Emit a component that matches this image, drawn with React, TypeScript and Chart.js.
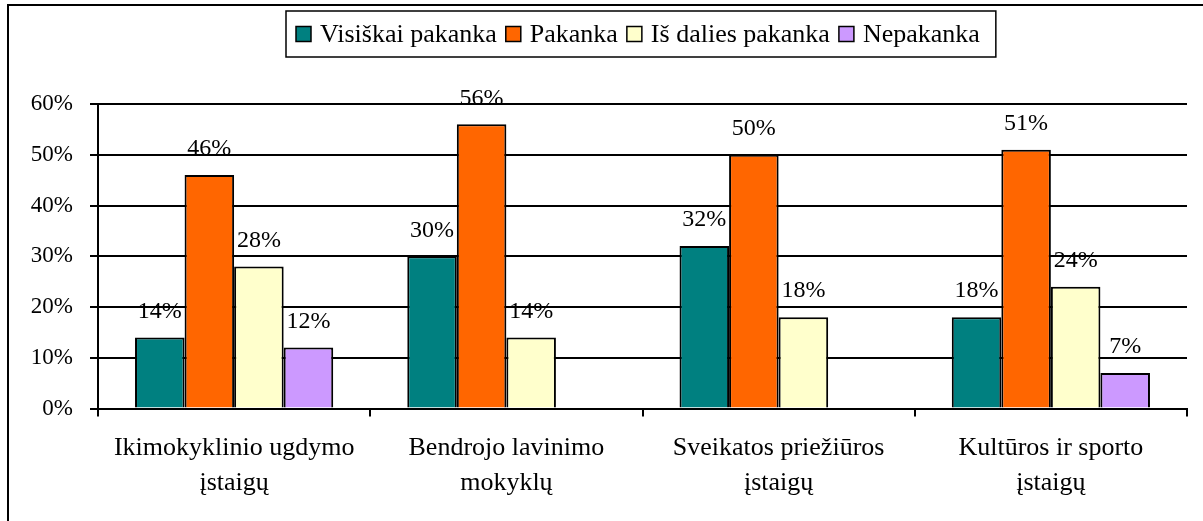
import React, { useEffect, useRef } from "react";
import { Chart, registerables } from "chart.js";

Chart.register(...registerables);

const categories: string[][] = [
  ["Ikimokyklinio ugdymo", "įstaigų"],
  ["Bendrojo lavinimo", "mokyklų"],
  ["Sveikatos priežiūros", "įstaigų"],
  ["Kultūros ir sporto", "įstaigų"],
];
const seriesNames = ["Visiškai pakanka", "Pakanka", "Iš dalies pakanka", "Nepakanka"];
const visiskaiPakanka: (number | null)[] = [14, 30, 32, 18];
const pakanka: (number | null)[] = [46, 56, 50, 51];
const isDaliesPakanka: (number | null)[] = [28, 14, 18, 24];
const nepakanka: (number | null)[] = [12, null, null, 7];
const seriesColors = ["#008080", "#FF6600", "#FFFFCC", "#CC99FF"];
const yMin = 0;
const yMax = 60;
const yStep = 10;

const FONT = "'Liberation Serif', 'Times New Roman', serif";

const framePlugin = {
  id: "frame",
  beforeDraw(chart: any) {
    const ctx = chart.ctx;
    ctx.save();
    ctx.fillStyle = "#fff";
    ctx.fillRect(0, 0, chart.width, chart.height);
    ctx.fillStyle = "#000";
    ctx.fillRect(7, 4, chart.width - 7, 2);
    ctx.fillRect(7, 4, 2, chart.height - 4);
    ctx.restore();
  },
};

const valueLabelPlugin = {
  id: "valueLabels",
  afterDatasetsDraw(chart: any) {
    const ctx = chart.ctx;
    ctx.save();
    ctx.font = `24px ${FONT}`;
    ctx.fillStyle = "#000";
    ctx.textAlign = "center";
    ctx.textBaseline = "middle";
    chart.data.datasets.forEach((ds: any, i: number) => {
      const meta = chart.getDatasetMeta(i);
      meta.data.forEach((bar: any, j: number) => {
        const v = ds.data[j];
        if (v == null) return;
        ctx.fillText(`${v}%`, bar.x, bar.y - 26);
      });
    });
    ctx.restore();
  },
};

const boxLegendPlugin = {
  id: "boxLegend",
  afterDraw(chart: any) {
    const ctx = chart.ctx;
    ctx.save();
    ctx.font = `26px ${FONT}`;
    const sw = 15;
    const gapText = 9;
    const gapItem = 9;
    const padL = 10;
    const padR = 16;
    const ds = chart.data.datasets;
    const widths = ds.map((d: any) => ctx.measureText(d.label).width);
    const content =
      widths.reduce((a: number, w: number) => a + sw + gapText + w, 0) + gapItem * (widths.length - 1);
    const boxW = content + padL + padR;
    const left = Math.round(641 - boxW / 2);
    const top = 11;
    const h = 46;
    ctx.fillStyle = "#fff";
    ctx.fillRect(left, top, boxW, h);
    ctx.lineWidth = 1.5;
    ctx.strokeStyle = "#000";
    ctx.strokeRect(left, top, boxW, h);
    let x = left + padL;
    const cy = top + h / 2;
    ctx.textAlign = "left";
    ctx.textBaseline = "middle";
    ds.forEach((d: any, i: number) => {
      ctx.fillStyle = d.backgroundColor;
      ctx.fillRect(x, cy - sw / 2, sw, sw);
      ctx.lineWidth = 1.5;
      ctx.strokeStyle = "#000";
      ctx.strokeRect(x, cy - sw / 2, sw, sw);
      x += sw + gapText;
      ctx.fillStyle = "#000";
      ctx.fillText(d.label, x, cy + 1);
      x += widths[i] + gapItem;
    });
    ctx.restore();
  },
};

export default function App() {
  const canvasRef = useRef<HTMLCanvasElement | null>(null);

  useEffect(() => {
    if (!canvasRef.current) return;
    const seriesData = [visiskaiPakanka, pakanka, isDaliesPakanka, nepakanka];
    const chart = new Chart(canvasRef.current, {
      type: "bar",
      data: {
        labels: categories,
        datasets: seriesNames.map((name, i) => ({
          label: name,
          data: seriesData[i],
          backgroundColor: seriesColors[i],
          borderColor: "#000",
          borderWidth: 2,
          categoryPercentage: 0.728,
          barPercentage: 1,
        })),
      },
      options: {
        animation: false,
        responsive: false,
        devicePixelRatio: 1,
        layout: { padding: { left: 28, top: 104, right: 16, bottom: 12.5 } },
        plugins: {
          legend: { display: false },
          tooltip: { enabled: false },
        },
        scales: {
          x: {
            grid: {
              display: true,
              drawOnChartArea: false,
              drawTicks: true,
              tickLength: 8,
              color: "#000",
              lineWidth: 2,
              offset: true,
            },
            border: { display: true, color: "#000", width: 2 },
            ticks: {
              color: "#000",
              font: { family: FONT, size: 26, lineHeight: 1.36 },
              padding: 14,
              maxRotation: 0,
              autoSkip: false,
            },
            afterFit: (s: any) => {
              s.height = 100;
            },
          },
          y: {
            min: yMin,
            max: yMax,
            grid: { color: "#000", lineWidth: 2, tickLength: 8, drawTicks: true },
            border: { display: true, color: "#000", width: 2 },
            ticks: {
              stepSize: yStep,
              color: "#000",
              font: { family: FONT, size: 23 },
              padding: 17,
              callback: (v: any) => `${v}%`,
            },
            afterFit: (s: any) => {
              s.width = 70;
            },
          },
        },
      },
      plugins: [framePlugin, valueLabelPlugin, boxLegendPlugin],
    } as any);
    return () => chart.destroy();
  }, []);

  return (
    <div
      style={{
        position: "fixed",
        left: 0,
        top: 0,
        width: 1203,
        height: 521,
        overflow: "hidden",
        background: "#fff",
      }}
    >
      <canvas ref={canvasRef} width={1203} height={521} style={{ display: "block" }} />
    </div>
  );
}
